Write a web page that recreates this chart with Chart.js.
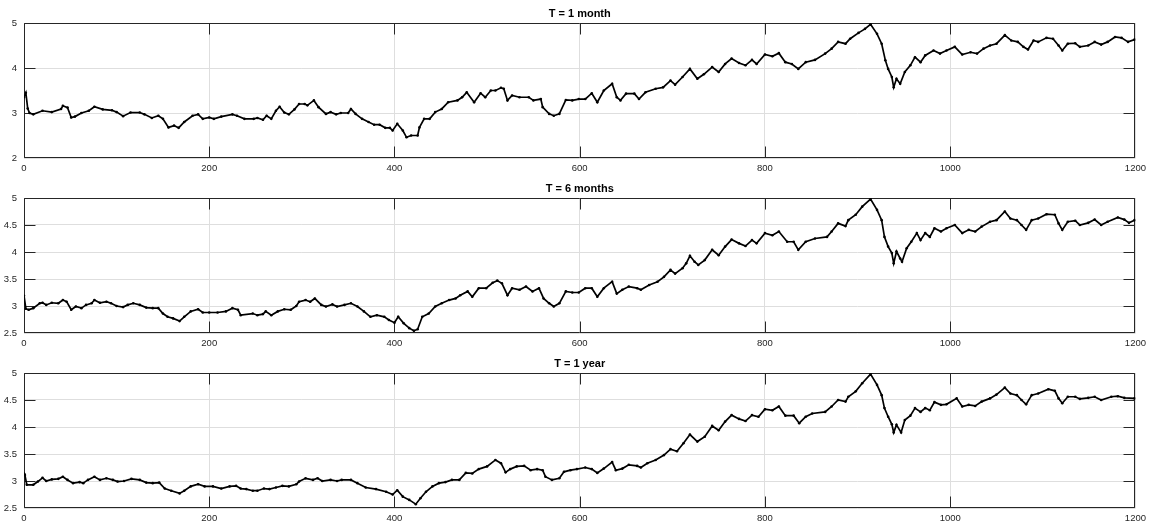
<!DOCTYPE html>
<html>
<head>
<meta charset="utf-8">
<script src="https://cdn.jsdelivr.net/npm/chart.js@4.4.1/dist/chart.umd.min.js"></script>
<style>
  html, body { margin: 0; padding: 0; background: #fff; }
  #wrap { position: relative; width: 1151px; height: 526px; overflow: hidden; }
  canvas { position: absolute; left: 0; }
</style>
</head>
<body>
<div id="wrap">
  <canvas id="c1" width="1151" height="175" style="top:0px"></canvas>
  <canvas id="c2" width="1151" height="175" style="top:175px"></canvas>
  <canvas id="c3" width="1151" height="176" style="top:350px"></canvas>
</div>
<script>
// Yield series, [step, value] pairs
const month1 = [[0,3.35],[2,3.45],[4,3.10],[6,3.00],[10,2.97],[20,3.05],[30,3.02],[40,3.09],[42,3.16],[47,3.12],[51,2.90],[55,2.92],[62,3.00],[70,3.05],[76,3.14],[85,3.08],[95,3.06],[100,3.02],[107,2.93],[115,3.01],[125,3.01],[130,2.97],[138,2.89],[145,2.94],[150,2.87],[156,2.68],[162,2.72],[167,2.67],[173,2.80],[182,2.94],[188,2.97],[193,2.87],[200,2.90],[205,2.87],[213,2.92],[225,2.97],[230,2.94],[238,2.87],[248,2.87],[252,2.89],[258,2.85],[262,2.94],[267,2.87],[272,3.05],[276,3.14],[281,3.01],[286,2.97],[292,3.08],[297,3.20],[303,3.20],[306,3.17],[313,3.28],[318,3.13],[326,2.98],[331,3.02],[337,2.97],[342,3.00],[350,3.00],[353,3.09],[358,2.98],[365,2.87],[372,2.80],[378,2.74],[384,2.74],[390,2.67],[395,2.67],[398,2.61],[403,2.76],[409,2.61],[413,2.46],[418,2.50],[425,2.50],[427,2.68],[432,2.87],[438,2.87],[444,3.02],[451,3.09],[458,3.24],[468,3.28],[473,3.35],[478,3.46],[486,3.24],[493,3.44],[498,3.35],[504,3.50],[509,3.50],[515,3.56],[518,3.54],[522,3.28],[527,3.39],[535,3.35],[545,3.35],[550,3.28],[558,3.31],[560,3.13],[567,2.98],[572,2.94],[578,2.98],[585,3.29],[592,3.28],[599,3.31],[606,3.31],[613,3.44],[619,3.24],[626,3.50],[635,3.65],[640,3.35],[644,3.28],[650,3.43],[659,3.43],[664,3.31],[671,3.46],[682,3.54],[690,3.57],[698,3.72],[703,3.63],[711,3.80],[719,3.98],[727,3.76],[734,3.86],[743,4.02],[750,3.91],[757,4.09],[764,4.21],[772,4.11],[779,4.06],[786,4.18],[791,4.09],[800,4.30],[808,4.26],[815,4.33],[822,4.13],[829,4.09],[836,3.98],[844,4.13],[854,4.18],[865,4.32],[872,4.43],[879,4.58],[887,4.54],[892,4.65],[901,4.78],[908,4.87],[914,4.97],[921,4.76],[926,4.54],[930,4.17],[933,3.98],[937,3.80],[939,3.57],[942,3.76],[946,3.65],[951,3.91],[957,4.06],[962,4.24],[968,4.13],[973,4.28],[982,4.39],[989,4.32],[996,4.39],[1005,4.47],[1013,4.30],[1022,4.35],[1029,4.32],[1036,4.43],[1043,4.50],[1050,4.54],[1059,4.73],[1066,4.61],[1073,4.58],[1079,4.47],[1084,4.41],[1090,4.61],[1095,4.58],[1104,4.67],[1111,4.65],[1117,4.50],[1121,4.39],[1127,4.54],[1135,4.55],[1140,4.47],[1149,4.50],[1156,4.58],[1163,4.52],[1170,4.58],[1178,4.69],[1185,4.67],[1192,4.58],[1199,4.63]];

const months6 = [[0,3.19],[2,2.95],[5,2.93],[10,2.96],[17,3.05],[20,3.06],[24,3.02],[30,3.06],[37,3.05],[42,3.11],[46,3.08],[51,2.93],[56,2.99],[62,2.96],[67,3.02],[73,3.05],[76,3.11],[82,3.06],[89,3.08],[94,3.05],[100,3.00],[107,2.98],[112,3.02],[118,3.05],[125,3.02],[132,2.97],[139,2.96],[145,2.96],[150,2.86],[155,2.80],[161,2.77],[168,2.72],[173,2.80],[180,2.90],[188,2.94],[193,2.88],[200,2.88],[209,2.88],[218,2.90],[225,2.96],[231,2.93],[234,2.83],[247,2.86],[252,2.83],[258,2.85],[261,2.90],[267,2.83],[274,2.90],[281,2.94],[288,2.93],[294,3.00],[297,3.08],[304,3.11],[309,3.08],[314,3.14],[321,3.02],[326,2.99],[333,3.03],[338,2.99],[346,3.02],[353,3.05],[360,2.99],[367,2.90],[374,2.80],[381,2.83],[389,2.80],[394,2.74],[400,2.69],[404,2.80],[410,2.68],[416,2.59],[421,2.54],[425,2.57],[430,2.80],[437,2.86],[444,2.99],[451,3.05],[459,3.11],[466,3.14],[471,3.20],[479,3.27],[484,3.17],[491,3.33],[499,3.33],[506,3.43],[511,3.47],[516,3.42],[522,3.20],[527,3.33],[535,3.30],[542,3.36],[549,3.27],[556,3.33],[561,3.14],[567,3.05],[572,2.99],[578,3.05],[585,3.27],[592,3.25],[599,3.25],[606,3.33],[613,3.33],[619,3.17],[626,3.33],[635,3.45],[640,3.23],[646,3.30],[653,3.36],[662,3.33],[666,3.30],[675,3.39],[684,3.45],[691,3.54],[698,3.67],[703,3.60],[711,3.70],[715,3.79],[719,3.93],[724,3.82],[728,3.76],[735,3.85],[743,4.04],[750,3.94],[757,4.10],[764,4.23],[772,4.16],[779,4.11],[786,4.22],[791,4.16],[800,4.35],[808,4.31],[815,4.38],[824,4.19],[831,4.19],[836,4.04],[844,4.19],[854,4.25],[867,4.28],[872,4.38],[879,4.53],[887,4.48],[890,4.59],[898,4.69],[905,4.84],[914,4.98],[921,4.78],[926,4.59],[929,4.28],[933,4.10],[937,3.98],[939,3.79],[942,4.01],[946,3.88],[948,3.82],[953,4.07],[958,4.19],[964,4.35],[968,4.22],[973,4.35],[978,4.28],[983,4.44],[990,4.38],[996,4.44],[1005,4.50],[1013,4.35],[1020,4.41],[1027,4.38],[1034,4.47],[1043,4.56],[1050,4.59],[1059,4.75],[1065,4.62],[1072,4.59],[1077,4.50],[1082,4.41],[1088,4.59],[1095,4.62],[1104,4.70],[1113,4.69],[1117,4.53],[1121,4.41],[1127,4.56],[1135,4.58],[1140,4.50],[1149,4.54],[1156,4.60],[1163,4.50],[1170,4.56],[1181,4.64],[1188,4.60],[1193,4.54],[1199,4.59]];

const year1 = [[0,3.14],[1,3.11],[3,2.93],[10,2.93],[15,2.99],[20,3.06],[24,3.00],[30,3.03],[37,3.04],[42,3.08],[47,3.02],[53,2.96],[60,2.98],[64,2.96],[69,3.02],[76,3.08],[82,3.02],[89,3.05],[96,3.02],[101,2.99],[108,3.00],[116,3.04],[125,3.02],[132,2.97],[139,2.96],[146,2.97],[152,2.86],[159,2.82],[168,2.77],[173,2.82],[180,2.90],[188,2.94],[195,2.90],[204,2.90],[213,2.86],[222,2.90],[229,2.91],[234,2.86],[240,2.85],[247,2.82],[252,2.82],[259,2.86],[265,2.85],[272,2.88],[279,2.91],[286,2.90],[294,2.94],[297,2.99],[304,3.05],[312,3.02],[317,3.05],[322,3.00],[331,3.02],[338,3.00],[343,3.02],[353,3.02],[360,2.96],[369,2.88],[380,2.85],[391,2.80],[398,2.75],[403,2.83],[409,2.71],[416,2.65],[423,2.57],[428,2.68],[434,2.80],[441,2.90],[448,2.96],[455,2.98],[462,3.02],[470,3.02],[477,3.15],[484,3.14],[491,3.22],[500,3.27],[509,3.39],[515,3.33],[520,3.16],[525,3.22],[532,3.27],[540,3.28],[547,3.20],[554,3.22],[560,3.20],[563,3.08],[570,3.02],[578,3.05],[583,3.17],[590,3.20],[597,3.22],[606,3.25],[613,3.22],[619,3.15],[626,3.23],[635,3.35],[639,3.20],[646,3.23],[653,3.30],[662,3.28],[666,3.25],[673,3.33],[682,3.39],[691,3.48],[698,3.59],[705,3.55],[712,3.70],[719,3.86],[727,3.73],[735,3.82],[743,4.02],[750,3.94],[757,4.10],[764,4.22],[772,4.15],[779,4.11],[786,4.22],[793,4.19],[800,4.33],[808,4.31],[815,4.38],[822,4.21],[831,4.21],[837,4.07],[844,4.19],[851,4.25],[865,4.28],[872,4.38],[879,4.50],[887,4.47],[890,4.56],[898,4.66],[905,4.81],[914,4.98],[921,4.78],[926,4.59],[929,4.35],[933,4.19],[937,4.05],[939,3.90],[942,4.04],[947,3.90],[951,4.13],[957,4.21],[962,4.35],[968,4.28],[973,4.35],[978,4.31],[983,4.46],[990,4.41],[996,4.42],[1007,4.53],[1013,4.38],[1020,4.41],[1027,4.39],[1034,4.47],[1043,4.53],[1050,4.60],[1059,4.73],[1065,4.62],[1072,4.59],[1077,4.50],[1082,4.42],[1088,4.59],[1095,4.62],[1106,4.70],[1113,4.67],[1117,4.53],[1121,4.44],[1127,4.56],[1135,4.56],[1140,4.52],[1149,4.54],[1156,4.56],[1163,4.50],[1174,4.56],[1181,4.57],[1188,4.54],[1199,4.53]];

const titles = ['T = 1 month', 'T = 6 months', 'T = 1 year'];
const xTicks = [0, 200, 400, 600, 800, 1000, 1200];
const yTicksTop = [2, 3, 4, 5];
const yTicksLower = [2.5, 3, 3.5, 4, 4.5, 5];

const FONT = "'Liberation Sans', Arial, Helvetica, sans-serif";
const AXIS = '#262626';

// Boxed axes with inward tick marks on all four sides, plus the panel title
const framePlugin = {
  id: 'frame',
  beforeDatasetsDraw(chart) {
    const { ctx, chartArea: a, scales: { x, y } } = chart;
    const L = Math.round(a.left) + 0.5, R = Math.round(a.right) - 0.5;
    const T = Math.round(a.top) + 0.5, B = Math.round(a.bottom) - 0.5;
    const clamp = (v, lo, hi) => Math.min(Math.max(v, lo), hi);
    const tl = 11;
    ctx.save();
    ctx.strokeStyle = AXIS;
    ctx.lineWidth = 1;
    ctx.beginPath();
    ctx.rect(L, T, R - L, B - T);
    x.ticks.forEach(t => {
      const px = clamp(Math.round(x.getPixelForValue(t.value)) + 0.5, L, R);
      ctx.moveTo(px, B); ctx.lineTo(px, B - tl);
      ctx.moveTo(px, T); ctx.lineTo(px, T + tl);
    });
    y.ticks.forEach(t => {
      const py = clamp(Math.round(y.getPixelForValue(t.value)) + 0.5, T, B);
      ctx.moveTo(L, py); ctx.lineTo(L + tl, py);
      ctx.moveTo(R, py); ctx.lineTo(R - tl, py);
    });
    ctx.stroke();
    ctx.restore();
  },
  afterDraw(chart, args, opts) {
    const { ctx, chartArea: a } = chart;
    ctx.save();
    ctx.font = 'bold 11px ' + FONT;
    ctx.fillStyle = '#000';
    ctx.textAlign = 'center';
    ctx.textBaseline = 'alphabetic';
    ctx.fillText(opts.text, (a.left + a.right) / 2, a.top - 6);
    ctx.restore();
  }
};

function makePanel(id, series, title, yTicks, height) {
  const plotTop = 23, plotBottom = 158, plotLeft = 24, plotRight = 1137;
  return new Chart(document.getElementById(id), {
    type: 'line',
    data: {
      datasets: [{
        data: series.map(p => ({ x: p[0], y: p[1] })),
        borderColor: '#000',
        borderWidth: 1.7,
        pointRadius: 1.3,
        pointBackgroundColor: '#000',
        pointBorderWidth: 0,
        tension: 0,
        fill: false
      }]
    },
    options: {
      responsive: false,
      animation: false,
      devicePixelRatio: 1,
      layout: { padding: { top: plotTop, right: 1151 - plotRight, left: 0, bottom: 0 } },
      plugins: {
        legend: { display: false },
        tooltip: { enabled: false },
        frame: { text: title }
      },
      scales: {
        x: {
          type: 'linear',
          min: xTicks[0],
          max: xTicks[xTicks.length - 1],
          afterBuildTicks: s => { s.ticks = xTicks.map(v => ({ value: v })); },
          afterFit: s => { s.height = height - plotBottom; },
          grid: { color: '#dedede', lineWidth: 1, drawTicks: false },
          border: { display: false },
          ticks: {
            padding: 5,
            maxRotation: 0,
            autoSkip: false,
            color: AXIS,
            font: { family: FONT, size: 9.5 },
            callback: v => String(v)
          }
        },
        y: {
          type: 'linear',
          min: yTicks[0],
          max: yTicks[yTicks.length - 1],
          afterBuildTicks: s => { s.ticks = yTicks.map(v => ({ value: v })); },
          afterFit: s => { s.width = plotLeft; },
          grid: { color: '#dedede', lineWidth: 1, drawTicks: false },
          border: { display: false },
          ticks: {
            padding: 7,
            color: AXIS,
            font: { family: FONT, size: 9.5 },
            callback: v => String(v)
          }
        }
      }
    },
    plugins: [framePlugin]
  });
}

makePanel('c1', month1, titles[0], yTicksTop, 175);
makePanel('c2', months6, titles[1], yTicksLower, 175);
makePanel('c3', year1, titles[2], yTicksLower, 176);
</script>
</body>
</html>
